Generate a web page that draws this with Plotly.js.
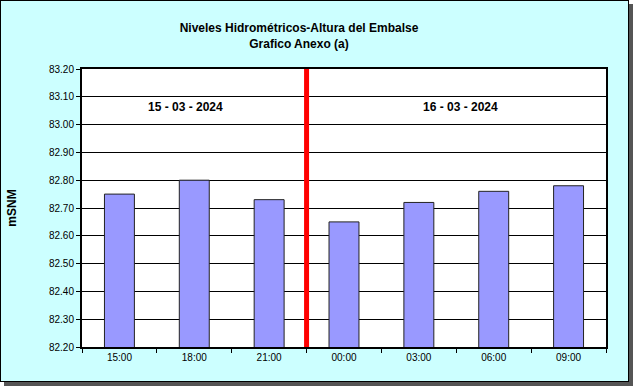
<!DOCTYPE html>
<html>
<head>
<meta charset="utf-8">
<script src="https://cdn.plot.ly/plotly-3.0.1.min.js"></script>
<style>
html,body{margin:0;padding:0;background:#ffffff;}
#frame{position:absolute;left:0;top:0;width:627px;height:380px;border:1px solid #000;box-shadow:4px 4px 0 #555;background:#CCFFFF;}
#chart{width:627px;height:380px;}
</style>
</head>
<body>
<div id="frame"><div id="chart"></div></div>
<script>
var categories = ["15:00", "18:00", "21:00", "00:00", "03:00", "06:00", "09:00"];
var levels = [82.75, 82.80, 82.73, 82.65, 82.72, 82.76, 82.78];
var dayLabels = ["15 - 03 - 2024", "16 - 03 - 2024"];
var titleLines = ["Niveles Hidrométricos-Altura del Embalse", "Grafico Anexo (a)"];
var yTitle = "mSNM";

var font = "Arial, 'Liberation Sans', sans-serif";

var trace = {
  type: "bar",
  x: categories,
  y: levels,
  width: 0.4,
  marker: {color: "#9999FF", line: {color: "#222222", width: 1}},
  hoverinfo: "x+y"
};

var layout = {
  width: 627, height: 380,
  margin: {l: 81, r: 22, t: 68, b: 34},
  paper_bgcolor: "#CCFFFF",
  plot_bgcolor: "#FFFFFF",
  showlegend: false,
  title: {
    text: "<b>" + titleLines[0] + "<br>" + titleLines[1] + "</b>",
    font: {family: font, size: 12, color: "#000"},
    x: 298/627, xref: "container", xanchor: "center",
    y: 1 - 31/380, yref: "container", yanchor: "middle"
  },
  xaxis: {
    type: "category",
    tickson: "boundaries",
    ticks: "outside", ticklen: 4, tickcolor: "#000",
    showline: true, linecolor: "#000", linewidth: 2, mirror: true,
    showgrid: false,
    tickfont: {family: font, size: 10, color: "#000"},
    range: [-0.5, 6.5]
  },
  yaxis: {
    range: [82.2, 83.2],
    dtick: 0.1, tick0: 82.2,
    tickformat: ".2f",
    ticks: "outside", ticklen: 4, tickcolor: "#000",
    showline: true, linecolor: "#000", linewidth: 2, mirror: true,
    showgrid: true, gridcolor: "#000", gridwidth: 1,
    zeroline: false,
    tickfont: {family: font, size: 10, color: "#000"},
    title: {text: "<b>" + yTitle + "</b>", font: {family: font, size: 12, color: "#000"}, standoff: 30}
  },
  shapes: [{
    type: "line", xref: "x", yref: "paper",
    x0: 2.5, x1: 2.5, y0: 0, y1: 1,
    line: {color: "#FF0000", width: 5}
  }],
  annotations: [
    {text: "<b>" + dayLabels[0] + "</b>", xref: "x", yref: "paper", x: 0.88, y: 1 - 38/278, showarrow: false, font: {family: font, size: 12, color: "#000"}, xanchor: "center", yanchor: "middle"},
    {text: "<b>" + dayLabels[1] + "</b>", xref: "x", yref: "paper", x: 4.55, y: 1 - 38/278, showarrow: false, font: {family: font, size: 12, color: "#000"}, xanchor: "center", yanchor: "middle"}
  ]
};

Plotly.newPlot("chart", [trace], layout, {displayModeBar: false, staticPlot: true});
</script>
</body>
</html>
